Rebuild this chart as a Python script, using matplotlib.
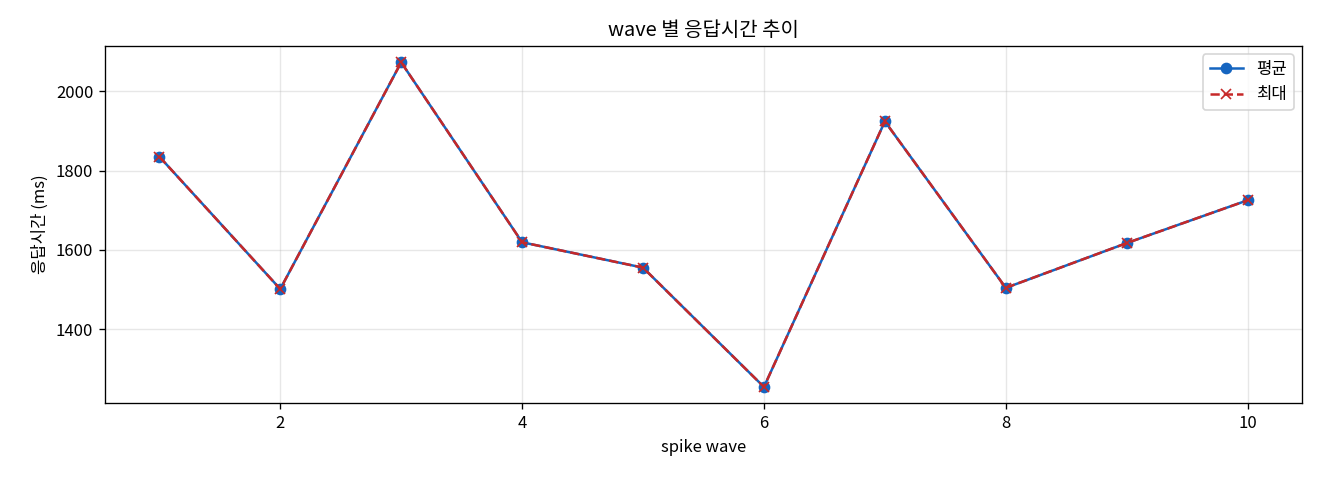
import matplotlib
matplotlib.use("Agg")
import matplotlib.pyplot as plt

plt.rcParams['font.family'] = ['Noto Sans CJK KR', 'DejaVu Sans']
plt.rcParams['axes.unicode_minus'] = False

waves = [1, 2, 3, 4, 5, 6, 7, 8, 9, 10]
avg_ms = [1835, 1501, 2073, 1619, 1555, 1254, 1924, 1504, 1617, 1725]
max_ms = [1835, 1501, 2073, 1619, 1555, 1254, 1924, 1504, 1617, 1725]

fig, ax = plt.subplots(figsize=(11, 4), dpi=120)
ax.plot(waves, avg_ms, "-o", color="#1565C0", markersize=6, linewidth=1.5, label="평균")
ax.plot(waves, max_ms, "--x", color="#C62828", markersize=6, linewidth=1.5, label="최대")
ax.set_title("wave 별 응답시간 추이")
ax.set_xlabel("spike wave")
ax.set_ylabel("응답시간 (ms)")
ax.grid(True, alpha=0.3)
ax.legend(loc="upper right")
fig.subplots_adjust(left=0.0795, right=0.9864, top=0.904, bottom=0.160)
fig.savefig("out.png")
